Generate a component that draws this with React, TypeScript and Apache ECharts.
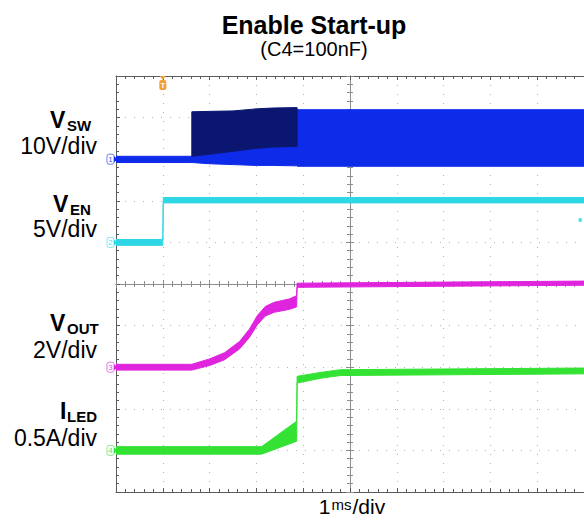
import React, { useEffect, useRef } from "react";
import * as echarts from "echarts";

// Horizontal: ms relative to screen centre (1 ms/div). Vertical: screen divisions from centre.
const TIME_MIN = -5;
const TIME_MAX = 5;
const DIV_MIN = -5;
const DIV_MAX = 5;

// Channel scale (units / div) and ground reference position (div from centre)
const vswScale = 10;
const vswGround = 3;
const venScale = 5;
const venGround = 1;
const voutScale = 2;
const voutGround = -2;
const iledScale = 0.5;
const iledGround = -4;

// Trace envelopes: [time ms, low, high] in channel units (V or A)
const vswBright: number[][] = [
  [-5.0, -0.8, 0.7],
  [-3.38, -0.8, 0.7],
  [-3.0, -1.1, 1.2],
  [-2.5, -1.3, 1.9],
  [-2.0, -1.5, 2.6],
  [-1.66, -1.5, 2.9],
  [-1.14, -1.6, 3.1],
  [-1.13, -1.7, 11.9],
  [5.0, -1.7, 11.9],
];
const vswDark: number[][] = [
  [-3.38, 0.7, 11.4],
  [-3.0, 1.2, 11.5],
  [-2.5, 1.9, 11.6],
  [-2.0, 2.6, 12.1],
  [-1.66, 2.9, 12.3],
  [-1.13, 3.1, 12.4],
];
const venBand: number[][] = [
  [-5.0, -0.35, 0.35],
  [-4.0, -0.35, 0.35],
  [-3.99, 4.75, 5.4],
  [5.0, 4.75, 5.4],
];
const voutBand: number[][] = [
  [-5.0, -0.14, 0.14],
  [-3.38, -0.14, 0.14],
  [-3.0, 0.08, 0.4],
  [-2.68, 0.36, 0.7],
  [-2.36, 0.88, 1.24],
  [-2.15, 1.43, 1.83],
  [-1.98, 2.04, 2.48],
  [-1.81, 2.46, 2.92],
  [-1.62, 2.64, 3.12],
  [-1.3, 2.78, 3.28],
  [-1.14, 2.9, 3.44],
  [-1.13, 3.84, 4.04],
  [5.0, 3.94, 4.14],
];
const iledBand: number[][] = [
  [-5.0, -0.045, 0.045],
  [-1.89, -0.045, 0.045],
  [-1.14, 0.11, 0.35],
  [-1.13, 0.81, 0.89],
  [-0.6, 0.87, 0.94],
  [-0.2, 0.9, 0.97],
  [5.0, 0.92, 0.99],
];
const venRightMarker: number[][] = [[4.92, 1.54]];
const triggerTime = -4;

// Channel ground markers
const channelLabels = ["1", "2", "3", "4"];
const channelGrounds = [vswGround, venGround, voutGround, iledGround];

const C_VSW_BRIGHT = "#0f2bea";
const C_VSW_DARK = "#0a1670";
const C_VEN = "#2fd6e4";
const C_VOUT = "#e024de";
const C_ILED = "#33e233";
const channelColors = [C_VSW_BRIGHT, C_VEN, C_VOUT, C_ILED];

const FONT = '"Liberation Sans", Arial, sans-serif';

function bandSeries(rows: number[][], scale: number, ground: number, color: string) {
  const data = rows.map((r) => [r[0], ground + r[1] / scale, ground + r[2] / scale]);
  return {
    type: "custom",
    xAxisIndex: 0,
    yAxisIndex: 0,
    clip: true,
    silent: true,
    data,
    encode: { x: 0, y: [1, 2] },
    renderItem: (params: any, api: any) => {
      if (params.dataIndex !== 0) return { type: "group", children: [] };
      const upper = data.map((d) => api.coord([d[0], d[2]]));
      const lower = data.map((d) => api.coord([d[0], d[1]])).reverse();
      return {
        type: "polygon",
        shape: { points: upper.concat(lower) },
        style: { fill: color, stroke: color, lineWidth: 1 },
      };
    },
  };
}

const GRID_C = "#b4b4b4";
const CENTER_C = "#8c8c8c";
const BORDER_C = "#5a5a5a";

function axisBase() {
  return {
    type: "value",
    min: DIV_MIN,
    max: DIV_MAX,
    interval: 1,
    axisLabel: { show: false },
  };
}

function label(x: number, y: number, text: string, size: number, bold: boolean, align: string) {
  return {
    type: "text",
    x,
    y,
    style: {
      text,
      font: `${bold ? "bold " : ""}${size}px ${FONT}`,
      fill: "#000",
      align,
      verticalAlign: "middle",
    },
  };
}

export default function App() {
  const ref = useRef<HTMLDivElement>(null);
  useEffect(() => {
    if (!ref.current) return;
    const chart = echarts.init(ref.current, undefined, { renderer: "svg" });
    const xCommon = { ...axisBase(), min: TIME_MIN, max: TIME_MAX };
    const option: any = {
      animation: false,
      backgroundColor: "#ffffff",
      grid: { left: 116, top: 76, width: 470, height: 416, containLabel: false },
      xAxis: [
        {
          ...xCommon,
          position: "bottom",
          axisLine: { show: true, onZero: true, lineStyle: { color: CENTER_C, width: 1 } },
          axisTick: { show: true, length: 4, lineStyle: { color: CENTER_C } },
          minorTick: { show: true, splitNumber: 5, length: 3, lineStyle: { color: CENTER_C } },
          splitLine: { show: true, lineStyle: { color: GRID_C, type: [1, 8], width: 1 } },
        },
        {
          ...xCommon,
          position: "top",
          axisLine: { show: true, onZero: true, lineStyle: { color: CENTER_C, width: 1 } },
          axisTick: { show: true, length: 4, lineStyle: { color: CENTER_C } },
          minorTick: { show: true, splitNumber: 5, length: 3, lineStyle: { color: CENTER_C } },
          splitLine: { show: false },
        },
        {
          ...xCommon,
          position: "bottom",
          axisLine: { show: true, onZero: false, lineStyle: { color: BORDER_C, width: 1 } },
          axisTick: { show: true, inside: true, length: 4, lineStyle: { color: BORDER_C } },
          minorTick: { show: true, splitNumber: 5, length: 3, lineStyle: { color: BORDER_C } },
          splitLine: { show: false },
        },
        {
          ...xCommon,
          position: "top",
          axisLine: { show: true, onZero: false, lineStyle: { color: BORDER_C, width: 1 } },
          axisTick: { show: true, inside: true, length: 4, lineStyle: { color: BORDER_C } },
          minorTick: { show: true, splitNumber: 5, length: 3, lineStyle: { color: BORDER_C } },
          splitLine: { show: false },
        },
      ],
      yAxis: [
        {
          ...axisBase(),
          position: "left",
          axisLine: { show: true, onZero: true, lineStyle: { color: CENTER_C, width: 1 } },
          axisTick: { show: true, length: 4, lineStyle: { color: CENTER_C } },
          minorTick: { show: true, splitNumber: 5, length: 3, lineStyle: { color: CENTER_C } },
          splitLine: { show: true, lineStyle: { color: GRID_C, type: [1, 8], width: 1 } },
        },
        {
          ...axisBase(),
          position: "right",
          axisLine: { show: true, onZero: true, lineStyle: { color: CENTER_C, width: 1 } },
          axisTick: { show: true, length: 4, lineStyle: { color: CENTER_C } },
          minorTick: { show: true, splitNumber: 5, length: 3, lineStyle: { color: CENTER_C } },
          splitLine: { show: false },
        },
        {
          ...axisBase(),
          position: "left",
          axisLine: { show: true, onZero: false, lineStyle: { color: BORDER_C, width: 1 } },
          axisTick: { show: true, inside: true, length: 4, lineStyle: { color: BORDER_C } },
          minorTick: { show: true, splitNumber: 5, length: 3, lineStyle: { color: BORDER_C } },
          splitLine: { show: false },
        },
      ],
      series: [
        bandSeries(vswBright, vswScale, vswGround, C_VSW_BRIGHT),
        bandSeries(vswDark, vswScale, vswGround, C_VSW_DARK),
        bandSeries(venBand, venScale, venGround, C_VEN),
        bandSeries(voutBand, voutScale, voutGround, C_VOUT),
        bandSeries(iledBand, iledScale, iledGround, C_ILED),
        {
          type: "scatter",
          xAxisIndex: 0,
          yAxisIndex: 0,
          data: venRightMarker,
          symbol: "circle",
          symbolSize: 4,
          itemStyle: { color: C_VEN },
          silent: true,
        },
        {
          type: "custom",
          xAxisIndex: 0,
          yAxisIndex: 0,
          clip: false,
          silent: true,
          data: channelGrounds.map((g, i) => [TIME_MIN, g, i]),
          renderItem: (params: any, api: any) => {
            const i = params.dataIndex;
            const p = api.coord([TIME_MIN, channelGrounds[i]]);
            const col = channelColors[i];
            return {
              type: "group",
              children: [
                {
                  type: "rect",
                  shape: { x: p[0] - 9, y: p[1] - 5, width: 7, height: 10, r: 2 },
                  style: { fill: "#ffffff", stroke: col, lineWidth: 0.8, opacity: 0.75 },
                },
                {
                  type: "text",
                  x: p[0] - 5.5,
                  y: p[1],
                  style: {
                    text: channelLabels[i],
                    fill: col,
                    opacity: 0.85,
                    font: `8px ${FONT}`,
                    align: "center",
                    verticalAlign: "middle",
                  },
                },
                {
                  type: "polygon",
                  shape: { points: [[p[0] - 2, p[1] - 3], [p[0] + 2, p[1]], [p[0] - 2, p[1] + 3]] },
                  style: { fill: col },
                },
              ],
            };
          },
        },
        {
          type: "custom",
          xAxisIndex: 0,
          yAxisIndex: 0,
          clip: false,
          silent: true,
          data: [[triggerTime, DIV_MAX]],
          renderItem: (params: any, api: any) => {
            const p = api.coord([triggerTime, DIV_MAX]);
            const col = "#f0a030";
            return {
              type: "group",
              children: [
                {
                  type: "polygon",
                  shape: { points: [[p[0] - 3, p[1]], [p[0] + 3, p[1]], [p[0], p[1] + 4]] },
                  style: { fill: col },
                },
                {
                  type: "rect",
                  shape: { x: p[0] - 3.5, y: p[1] + 4, width: 7, height: 10, r: 2 },
                  style: { fill: col },
                },
                {
                  type: "text",
                  x: p[0],
                  y: p[1] + 9,
                  style: { text: "T", fill: "#ffffff", font: `bold 7px ${FONT}`, align: "center", verticalAlign: "middle" },
                },
              ],
            };
          },
        },
      ],
      graphic: [
        label(314, 25, "Enable Start-up", 25, true, "center"),
        label(314, 49, "(C4=100nF)", 20, false, "center"),

        label(50, 120, "V", 23, true, "left"),
        label(67, 125, "SW", 15, true, "left"),
        label(97, 146, "10V/div", 23, false, "right"),

        label(53, 204, "V", 23, true, "left"),
        label(70, 209, "EN", 15, true, "left"),
        label(97, 229, "5V/div", 23, false, "right"),

        label(50, 323, "V", 23, true, "left"),
        label(67, 328, "OUT", 15, true, "left"),
        label(97, 350, "2V/div", 23, false, "right"),

        label(60, 411, "I", 23, true, "left"),
        label(67, 416, "LED", 15, true, "left"),
        label(97, 438, "0.5A/div", 23, false, "right"),

        {
          type: "text",
          x: 352,
          y: 506,
          style: {
            text: "{a|1}{b|ms}{a|/div}",
            align: "center",
            verticalAlign: "middle",
            fill: "#000",
            rich: {
              a: { fontSize: 21, fontFamily: FONT, fill: "#000" },
              b: { fontSize: 15, fontFamily: FONT, fill: "#000", padding: [0, 1, 4, 1] },
            },
          },
        },
      ],
    };
    chart.setOption(option);
    return () => chart.dispose();
  }, []);
  return (
    <div
      ref={ref}
      style={{ position: "absolute", left: 0, top: 0, width: 584, height: 523, background: "#fff" }}
    />
  );
}
